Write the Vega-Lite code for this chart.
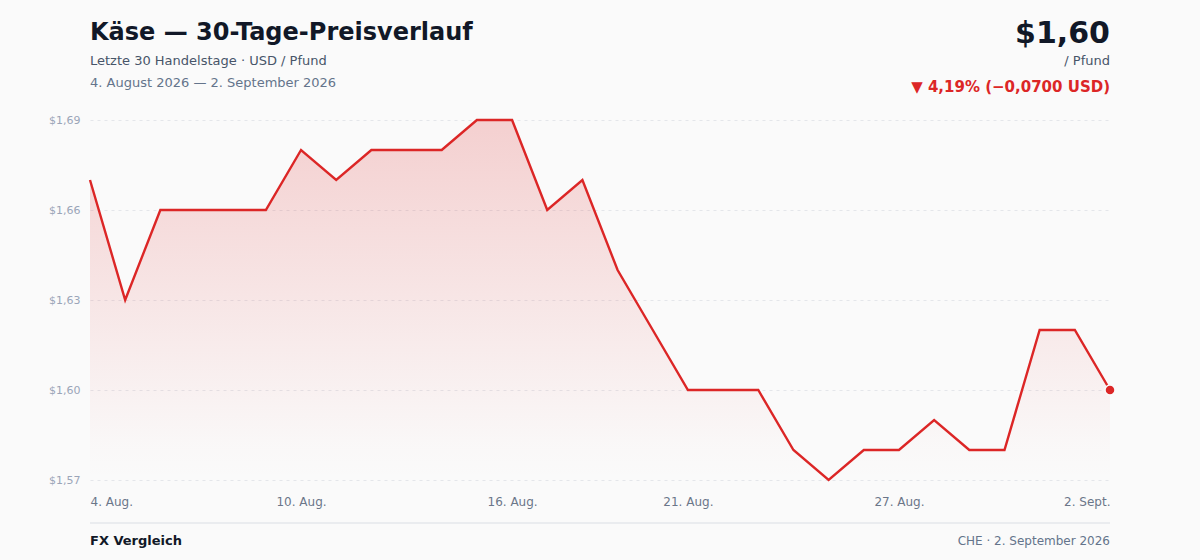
{
  "$schema": "https://vega.github.io/schema/vega-lite/v6.json",
  "autosize": {"type": "none"},
  "width": 1020,
  "height": 360,
  "padding": {"left": 90, "top": 120, "right": 90, "bottom": 80},
  "background": "#fafafa",
  "data": {
    "values": [
      {"date": "2026-08-04", "price": 1.67},
      {"date": "2026-08-05", "price": 1.63},
      {"date": "2026-08-06", "price": 1.66},
      {"date": "2026-08-07", "price": 1.66},
      {"date": "2026-08-08", "price": 1.66},
      {"date": "2026-08-09", "price": 1.66},
      {"date": "2026-08-10", "price": 1.68},
      {"date": "2026-08-11", "price": 1.67},
      {"date": "2026-08-12", "price": 1.68},
      {"date": "2026-08-13", "price": 1.68},
      {"date": "2026-08-14", "price": 1.68},
      {"date": "2026-08-15", "price": 1.69},
      {"date": "2026-08-16", "price": 1.69},
      {"date": "2026-08-17", "price": 1.66},
      {"date": "2026-08-18", "price": 1.67},
      {"date": "2026-08-19", "price": 1.64},
      {"date": "2026-08-20", "price": 1.62},
      {"date": "2026-08-21", "price": 1.60},
      {"date": "2026-08-22", "price": 1.60},
      {"date": "2026-08-23", "price": 1.60},
      {"date": "2026-08-24", "price": 1.58},
      {"date": "2026-08-25", "price": 1.57},
      {"date": "2026-08-26", "price": 1.58},
      {"date": "2026-08-27", "price": 1.58},
      {"date": "2026-08-28", "price": 1.59},
      {"date": "2026-08-29", "price": 1.58},
      {"date": "2026-08-30", "price": 1.58},
      {"date": "2026-08-31", "price": 1.62},
      {"date": "2026-09-01", "price": 1.62},
      {"date": "2026-09-02", "price": 1.60}
    ]
  },
  "encoding": {
    "x": {
      "field": "date",
      "type": "temporal",
      "title": null,
      "scale": {"type": "utc", "nice": false},
      "axis": {
        "values": [
          {"year": 2026, "month": 8, "date": 4, "utc": true},
          {"year": 2026, "month": 8, "date": 10, "utc": true},
          {"year": 2026, "month": 8, "date": 16, "utc": true},
          {"year": 2026, "month": 8, "date": 21, "utc": true},
          {"year": 2026, "month": 8, "date": 27, "utc": true},
          {"year": 2026, "month": 9, "date": 2, "utc": true}
        ],
        "labelExpr": "utcdate(datum.value) + '. ' + (utcmonth(datum.value) == 7 ? 'Aug.' : 'Sept.')",
        "labelFlush": true,
        "labelFontSize": 12,
        "labelColor": "#6b7689",
        "labelPadding": 16,
        "domain": false,
        "ticks": false,
        "grid": false
      }
    },
    "y": {
      "field": "price",
      "type": "quantitative",
      "title": null,
      "scale": {"domain": [1.57, 1.69], "nice": false, "zero": false},
      "axis": {
        "values": [1.57, 1.60, 1.63, 1.66, 1.69],
        "labelExpr": "'$' + replace(format(datum.value, '.2f'), '.', ',')",
        "labelFontSize": 11,
        "labelColor": "#9aa5b8",
        "labelPadding": 10,
        "domain": false,
        "ticks": false,
        "grid": true,
        "gridColor": "#e4e6ea",
        "gridDash": [3, 4],
        "gridWidth": 1
      }
    }
  },
  "layer": [
    {
      "mark": {
        "type": "area",
        "color": {
          "gradient": "linear",
          "x1": 0, "x2": 0, "y1": 0, "y2": 1,
          "stops": [
            {"offset": 0, "color": "rgba(220,38,38,0.2)"},
            {"offset": 0.9, "color": "rgba(220,38,38,0.01)"},
            {"offset": 1, "color": "rgba(220,38,38,0)"}
          ]
        }
      },
      "encoding": {"y2": {"datum": 1.57}}
    },
    {
      "mark": {"type": "line", "color": "#dc2626", "strokeWidth": 2.4}
    },
    {
      "transform": [{"filter": "utcmonth(datum.date) == 8 && utcdate(datum.date) == 2"}],
      "mark": {"type": "circle", "color": "#dc2626", "opacity": 1, "size": 100, "stroke": "#fafafa", "strokeWidth": 1.5}
    },
    {
      "mark": {"type": "line", "color": "#e5e7eb", "strokeWidth": 1.5, "yOffset": 43},
      "encoding": {"y": {"datum": 1.57, "type": "quantitative"}}
    },
    {
      "transform": [{"filter": "utcmonth(datum.date) == 7 && utcdate(datum.date) == 4"}],
      "layer": [
        {
          "encoding": {"y": {"datum": 1.69, "type": "quantitative"}},
          "layer": [
            {"mark": {"type": "text", "text": "Käse — 30-Tage-Preisverlauf", "align": "left", "baseline": "middle", "dy": -87, "fontSize": 24, "fontWeight": "bold", "color": "#111827"}},
            {"mark": {"type": "text", "text": "Letzte 30 Handelstage · USD / Pfund", "align": "left", "baseline": "middle", "dy": -59, "fontSize": 13, "color": "#475569"}},
            {"mark": {"type": "text", "text": "4. August 2026 — 2. September 2026", "align": "left", "baseline": "middle", "dy": -37, "fontSize": 13, "color": "#64748b"}}
          ]
        },
        {
          "encoding": {"y": {"datum": 1.57, "type": "quantitative"}},
          "mark": {"type": "text", "text": "FX Vergleich", "align": "left", "baseline": "middle", "dy": 61, "fontSize": 13, "fontWeight": "bold", "color": "#111827"}
        }
      ]
    },
    {
      "transform": [{"filter": "utcmonth(datum.date) == 8 && utcdate(datum.date) == 2"}],
      "layer": [
        {
          "encoding": {"y": {"datum": 1.69, "type": "quantitative"}},
          "layer": [
            {"mark": {"type": "text", "text": "$1,60", "align": "right", "baseline": "middle", "dy": -86, "fontSize": 30, "fontWeight": "bold", "color": "#111827"}},
            {"mark": {"type": "text", "text": "/ Pfund", "align": "right", "baseline": "middle", "dy": -59, "fontSize": 13, "color": "#475569"}},
            {"mark": {"type": "text", "text": "▼ 4,19% (−0,0700 USD)", "align": "right", "baseline": "middle", "dy": -33, "fontSize": 15, "fontWeight": "bold", "color": "#dc2626"}}
          ]
        },
        {
          "encoding": {"y": {"datum": 1.57, "type": "quantitative"}},
          "mark": {"type": "text", "text": "CHE · 2. September 2026", "align": "right", "baseline": "middle", "dy": 61, "fontSize": 12, "color": "#64748b"}
        }
      ]
    }
  ],
  "config": {
    "font": "DejaVu Sans",
    "view": {"stroke": null}
  }
}
